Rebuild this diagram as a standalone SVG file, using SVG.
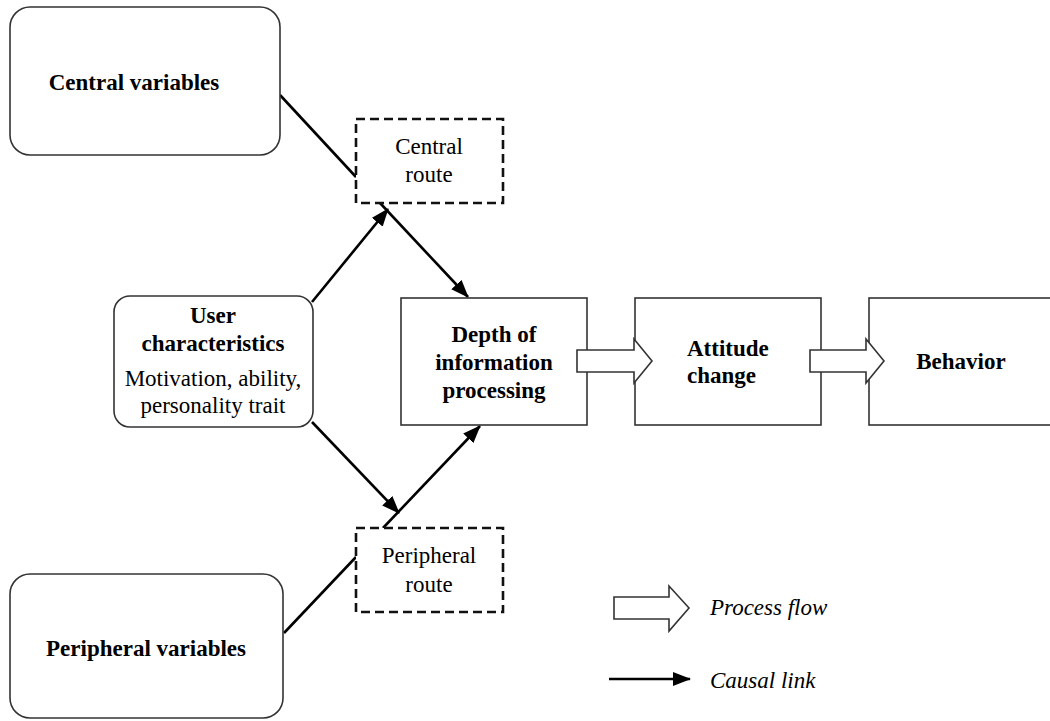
<svg xmlns="http://www.w3.org/2000/svg" width="1050" height="721" viewBox="0 0 1050 721">
<defs>
<style>
.box{fill:#fff;stroke:#333;stroke-width:1.6}
.dash{fill:#fff;stroke:#111;stroke-width:2.6;stroke-dasharray:9,5}
.link{stroke:#000;stroke-width:2.6;fill:none}
.flow{fill:#fff;stroke:#333;stroke-width:1.6}
text{font-family:"Liberation Serif","Times New Roman",serif;font-size:23px;fill:#000;text-anchor:middle}
.b{font-weight:bold}
.l{text-anchor:start}
.i{font-style:italic;text-anchor:start}
</style>
<marker id="ah" markerUnits="userSpaceOnUse" markerWidth="18" markerHeight="14" refX="17" refY="7" orient="auto">
<path d="M0,0 L18,7 L0,14 z" fill="#000"/>
</marker>
</defs>
<rect width="1050" height="721" fill="#fff"/>

<g id="connectors">
<line class="link" x1="280" y1="95" x2="356" y2="177"/>
<line class="link" x1="380" y1="203" x2="468" y2="297" marker-end="url(#ah)"/>
<line class="link" x1="312" y1="302" x2="388" y2="209" marker-end="url(#ah)"/>
<line class="link" x1="312" y1="422" x2="399" y2="513" marker-end="url(#ah)"/>
<line class="link" x1="383" y1="528" x2="480" y2="426" marker-end="url(#ah)"/>
<line class="link" x1="284" y1="633" x2="356" y2="557"/>
</g>

<g id="central-variables">
<rect class="box" x="10" y="7" width="270" height="148" rx="20"/>
<text class="b" x="134" y="90">Central variables</text>
</g>

<g id="central-route">
<rect class="dash" x="356" y="119" width="147" height="84"/>
<text x="429" y="154">Central</text>
<text x="429" y="182">route</text>
</g>

<g id="user-characteristics">
<rect class="box" x="114" y="296" width="199" height="131" rx="16"/>
<text class="b" x="213" y="323">User</text>
<text class="b" x="213" y="351">characteristics</text>
<text x="213" y="386">Motivation, ability,</text>
<text x="213" y="413">personality trait</text>
</g>

<g id="depth">
<rect class="box" x="401" y="298" width="186" height="127"/>
<text class="b" x="494" y="342">Depth of</text>
<text class="b" x="494" y="370">information</text>
<text class="b" x="494" y="398">processing</text>
</g>

<g id="attitude">
<rect class="box" x="635" y="298" width="186" height="127"/>
<text class="b l" x="687" y="356">Attitude</text>
<text class="b l" x="687" y="383">change</text>
</g>

<g id="behavior">
<rect class="box" x="869" y="298" width="200" height="127"/>
<text class="b" x="961" y="369">Behavior</text>
</g>

<g id="peripheral-route">
<rect class="dash" x="356" y="528" width="147" height="84"/>
<text x="429" y="563">Peripheral</text>
<text x="429" y="592">route</text>
</g>

<g id="peripheral-variables">
<rect class="box" x="10" y="574" width="273" height="144" rx="20"/>
<text class="b" x="146" y="656">Peripheral variables</text>
</g>

<g id="process-flows">
<polygon class="flow" points="577,350 634,350 634,339 652,361 634,383 634,372 577,372"/>
<polygon class="flow" points="810,350 866,350 866,339 884,361 866,383 866,372 810,372"/>
</g>

<g id="legend">
<polygon class="flow" points="614,597 669,597 669,586 689,608 669,631 669,619 614,619"/>
<text class="i" x="710" y="615">Process flow</text>
<line class="link" x1="609" y1="679" x2="690" y2="679" marker-end="url(#ah)"/>
<text class="i" x="710" y="688">Causal link</text>
</g>
</svg>
